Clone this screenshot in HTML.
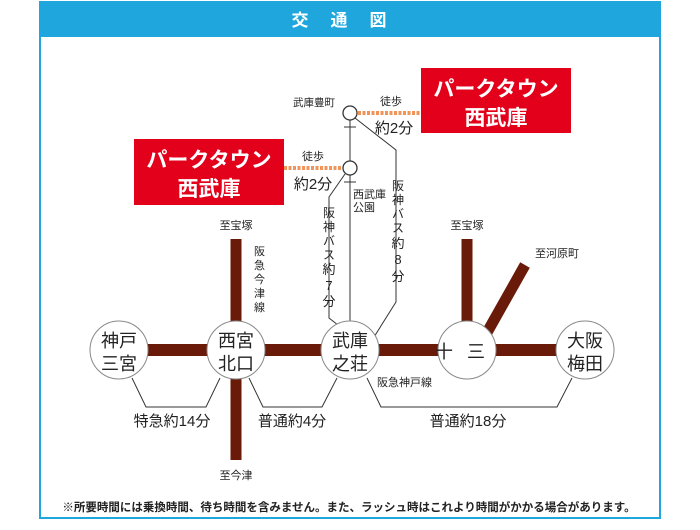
<!DOCTYPE html>
<html><head><meta charset="utf-8"><style>
body{margin:0;width:700px;height:525px;background:#fff;overflow:hidden}
svg text{font-family:"Liberation Sans","Noto Sans CJK JP",sans-serif}
</style></head><body>
<svg width="700" height="525" viewBox="0 0 700 525" xmlns="http://www.w3.org/2000/svg">
<rect x="40" y="2" width="620" height="516" fill="#fff" stroke="#1ea6dd" stroke-width="2"/>
<rect x="39" y="1" width="622" height="36" fill="#1ea6dd"/>
<text x="350" y="26" text-anchor="middle" fill="#fff" font-size="17" font-weight="bold" letter-spacing="22">交通図</text>
<!-- red boxes -->
<rect x="421" y="68" width="150" height="65" fill="#e3001b"/>
<text x="496" y="96" text-anchor="middle" fill="#fff" font-size="21" font-weight="bold">パークタウン</text>
<text x="496" y="125" text-anchor="middle" fill="#fff" font-size="21" font-weight="bold">西武庫</text>
<rect x="134" y="139" width="150" height="66" fill="#e3001b"/>
<text x="209" y="167" text-anchor="middle" fill="#fff" font-size="21" font-weight="bold">パークタウン</text>
<text x="209" y="196" text-anchor="middle" fill="#fff" font-size="21" font-weight="bold">西武庫</text>
<!-- walking dots -->
<line x1="358" y1="113" x2="420" y2="113" stroke="#f0945a" stroke-width="4" stroke-dasharray="3 1.5"/>
<line x1="284" y1="168" x2="342" y2="168" stroke="#f0945a" stroke-width="4" stroke-dasharray="3 1.5"/>
<g font-size="11" fill="#222" text-anchor="middle">
<text x="391" y="105">徒歩</text>
<text x="313" y="160">徒歩</text>
<text x="314" y="106" font-size="10.5">武庫豊町</text>
</g>
<g font-size="15" fill="#222" text-anchor="middle">
<text x="394" y="133">約2分</text>
<text x="313" y="189">約2分</text>
</g>
<!-- bus lines -->
<g stroke="#333" stroke-width="1" fill="none">
<line x1="350" y1="120" x2="350" y2="161"/>
<line x1="350" y1="175" x2="350" y2="322"/>
<line x1="344" y1="127" x2="356" y2="127"/>
<line x1="344" y1="182" x2="356" y2="182"/>
<polyline points="355,118 396,150 396,302 374,337"/>
<polyline points="345,174 329,197 329,318 338,325"/>
</g>
<circle cx="350" cy="113" r="7" fill="#fff" stroke="#333" stroke-width="1.3"/>
<circle cx="350" cy="168" r="7" fill="#fff" stroke="#333" stroke-width="1.3"/>
<g font-size="11" fill="#222">
<text x="353" y="198">西武庫</text>
<text x="353" y="211">公園</text>
</g>
<g font-size="13" fill="#222" text-anchor="middle">
<text x="329" y="217" font-size="12">阪</text><text x="329" y="231" font-size="12">神</text><text x="329" y="245" font-size="12">バ</text><text x="329" y="259" font-size="12">ス</text><text x="329" y="274">約</text><text x="329" y="290">7</text><text x="329" y="306">分</text>
<text x="398" y="190" font-size="12">阪</text><text x="398" y="204" font-size="12">神</text><text x="398" y="218" font-size="12">バ</text><text x="398" y="232" font-size="12">ス</text><text x="398" y="248">約</text><text x="398" y="264">8</text><text x="398" y="281">分</text>
</g>
<!-- railway -->
<g stroke="#6a1a08" fill="none">
<line x1="119" y1="350" x2="584" y2="350" stroke-width="12"/>
<line x1="236" y1="239" x2="236" y2="460" stroke-width="11"/>
<line x1="467" y1="239" x2="467" y2="335" stroke-width="11"/>
<line x1="485" y1="336" x2="525" y2="265" stroke-width="11"/>
</g>
<g fill="#fff" stroke="#888" stroke-width="1">
<circle cx="119" cy="350" r="29"/><circle cx="236" cy="350" r="29"/><circle cx="350" cy="350" r="29"/><circle cx="467" cy="350" r="29"/><circle cx="585" cy="350" r="29"/>
</g>
<g font-size="18" fill="#222" text-anchor="middle">
<text x="119" y="347">神戸</text><text x="119" y="370">三宮</text>
<text x="236" y="347">西宮</text><text x="236" y="370">北口</text>
<text x="350" y="347">武庫</text><text x="350" y="370">之荘</text>
<text x="467" y="358" letter-spacing="14">十三</text>
<text x="585" y="347">大阪</text><text x="585" y="370">梅田</text>
</g>
<g font-size="11" fill="#222">
<text x="236" y="229" text-anchor="middle">至宝塚</text>
<text x="467" y="229" text-anchor="middle">至宝塚</text>
<text x="535" y="257">至河原町</text>
<text x="236" y="479" text-anchor="middle">至今津</text>
<text x="377" y="386">阪急神戸線</text>
<text x="254" y="255">阪</text><text x="254" y="269">急</text><text x="254" y="283">今</text><text x="254" y="297">津</text><text x="254" y="311">線</text>
</g>
<g stroke="#333" stroke-width="1" fill="none">
<polyline points="132,378 146,407 206,407 220,378"/>
<polyline points="249,378 263,407 322,407 337,378"/>
<polyline points="367,378 381,407 557,407 572,378"/>
</g>
<g font-size="15" fill="#222" text-anchor="middle">
<text x="172" y="426">特急約14分</text>
<text x="292" y="426">普通約4分</text>
<text x="468" y="426">普通約18分</text>
</g>
<text x="349" y="511" text-anchor="middle" font-size="11.5" font-weight="bold" fill="#222">※所要時間には乗換時間、待ち時間を含みません。また、ラッシュ時はこれより時間がかかる場合があります。</text>
</svg>
</body></html>
